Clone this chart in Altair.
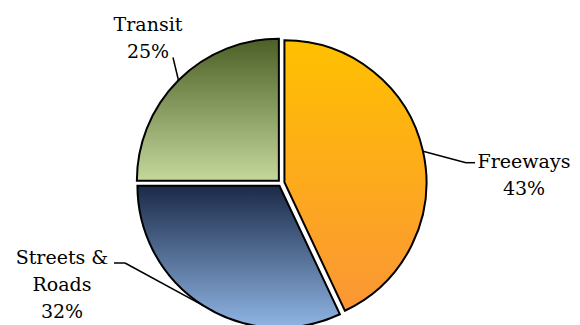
import altair as alt
import pandas as pd

# ---- data ----
categories = ["Freeways", "Streets & Roads", "Transit"]
values = [43, 32, 25]
label_lines = [["Freeways"], ["Streets &", "Roads"], ["Transit"]]

# ---- layout / style (chart pixel coordinates) ----
W, H = 564, 317
CX, CY = 273.2, 175.0      # pie centre
R = 142                    # pie radius
EXPLODE = 3.3              # slice explosion
FONT = "DejaVu Serif"
gradients = {
    "Freeways": ("#ffc000", "#fb9636"),
    "Streets & Roads": ("#1b2a48", "#8fb5e4"),
    "Transit": ("#4c5f26", "#c4d89c"),
}
label_layout = {           # text anchor, leader elbow, elbow end x
    "Freeways": dict(tx=516, ty=160.3, ex=458, ey=154.7, hx=467),
    "Streets & Roads": dict(tx=54, ty=256, ex=117, ey=255, hx=106),
    "Transit": dict(tx=140, ty=23, ex=165, ey=49.5, hx=165),
}

rows = []
for i, (c, v, lines) in enumerate(zip(categories, values, label_lines)):
    lay = label_layout[c]
    rows.append(dict(category=c, value=v, order=i,
                     label=lines + [f"{v}%"], **lay))
df = pd.DataFrame(rows)

base = alt.Chart(df).transform_joinaggregate(
    total="sum(value)"
).transform_window(
    cum="sum(value)", sort=[alt.SortField("order")], frame=[None, 0]
).transform_calculate(
    t0="2*PI*(datum.cum - datum.value)/datum.total",
    t1="2*PI*datum.cum/datum.total",
).transform_calculate(
    mid="(datum.t0 + datum.t1)/2"
).transform_calculate(
    cx=f"{CX} + {EXPLODE}*sin(datum.mid)",
    cy=f"{CY} - {EXPLODE}*cos(datum.mid)",
    lx=f"{CX} + {R + EXPLODE}*sin(datum.mid)",
    ly=f"{CY} - {R + EXPLODE}*cos(datum.mid)",
)

layers = []
for c in categories:
    top, bottom = gradients[c]
    grad = {
        "gradient": "linear",
        "x1": 0, "y1": 0, "x2": 0, "y2": 1,
        "stops": [{"offset": 0, "color": top}, {"offset": 1, "color": bottom}],
    }
    layers.append(
        base.transform_filter(alt.datum.category == c)
        .mark_arc(radius=R, fill=grad, stroke="black", strokeWidth=2)
        .encode(
            theta=alt.Theta("t0:Q", scale=None),
            theta2=alt.Theta2("t1:Q"),
            x=alt.X("cx:Q", scale=None, axis=None),
            y=alt.Y("cy:Q", scale=None, axis=None),
        )
    )

leader = base.mark_rule(color="black", strokeWidth=1.5).encode(
    x=alt.X("lx:Q", scale=None, axis=None),
    y=alt.Y("ly:Q", scale=None, axis=None),
    x2="ex:Q",
    y2="ey:Q",
)
elbow = base.mark_rule(color="black", strokeWidth=1.5).encode(
    x=alt.X("ex:Q", scale=None, axis=None),
    y=alt.Y("ey:Q", scale=None, axis=None),
    x2="hx:Q",
    y2="ey:Q",
)
labels = base.mark_text(
    font=FONT, fontSize=19, lineHeight=27,
    align="center", baseline="alphabetic", color="black",
).encode(
    x=alt.X("tx:Q", scale=None, axis=None),
    y=alt.Y("ty:Q", scale=None, axis=None),
    text="label",
)

chart = alt.layer(*layers, leader, elbow, labels).properties(
    width=W, height=H,
    autosize=alt.AutoSizeParams(type="none"),
    padding=0,
    background="white",
).configure_view(stroke=None)

chart.save("out.html", embed_options={"renderer": "svg", "actions": False})
